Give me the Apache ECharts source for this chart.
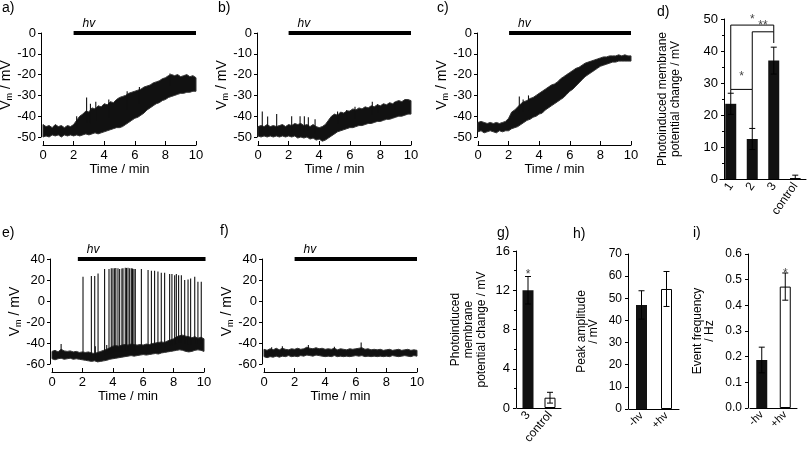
<!DOCTYPE html>
<html><head><meta charset="utf-8">
<script src="https://cdn.jsdelivr.net/npm/echarts@6/dist/echarts.min.js"></script>
<style>html,body{margin:0;padding:0;background:#fff}#c{width:810px;height:449px}</style>
</head><body><div id="c"></div>
<script>
// ---------------- DATA ----------------
const sampleTimes = [0,0.2,0.4,0.6,0.8,1,1.2,1.4,1.6,1.8,2,2.2,2.4,2.6,2.8,3,3.2,3.4,3.6,3.8,4,4.2,4.4,4.6,4.8,5,5.2,5.4,5.6,5.8,6,6.2,6.4,6.6,6.8,7,7.2,7.4,7.6,7.8,8,8.2,8.4,8.6,8.8,9,9.2,9.4,9.6,9.8,10];

// panel a: envelope of the Vm trace (mV)
const aHigh = [-44,-45,-44.5,-45.5,-44,-45,-44.5,-45.5,-44.5,-45,-44,-42,-40,-39,-37.5,-38,-36,-36.5,-35,-35.5,-34,-34.5,-33,-33.5,-32,-31,-30.5,-30,-29,-28.5,-28,-27.5,-27,-26,-25.5,-25,-24,-23.5,-23,-22,-21.5,-20.5,-20,-20.5,-20,-21,-20.5,-20,-21,-20.5,-21.5];
const aLow  = [-50,-49.5,-50,-49,-49.5,-49,-50,-49,-49.5,-49,-49.5,-49,-49.5,-49,-48.5,-49,-48.5,-48,-48.5,-48,-47.5,-47,-46.5,-46,-45.5,-45.5,-45,-44,-43,-42,-41,-40.5,-39.5,-38.5,-37,-36,-35,-34,-33.5,-32.5,-32,-31,-30.5,-30,-29.5,-29,-29,-28.5,-28.5,-28,-28];
const aSpikes = [[2.2,-40],[2.85,-31],[3.1,-34],[3.45,-33],[4.3,-32],[5.5,-28],[6.3,-26],[8.3,-19.5]];

// panel b
const bHigh = [-45,-44.5,-45,-44,-45,-44.5,-45,-44.5,-44,-45,-44,-44.5,-43.5,-44,-43.5,-44.5,-44,-45,-44,-45,-45.5,-45,-44,-42,-40,-39,-39.5,-38,-38.5,-37.5,-37.5,-36.5,-37,-36,-36.5,-35.5,-36,-35,-35.5,-34.5,-35,-34,-34.5,-33.5,-34,-33,-32.5,-33,-32,-32,-32.5];
const bLow  = [-49.5,-50,-49.5,-50,-49.5,-50,-49.5,-50,-49.5,-50,-49.5,-50,-49.5,-50.5,-50,-50.5,-50,-51,-50.5,-51.5,-51,-52,-51.5,-50.5,-49.5,-48.5,-47.5,-47,-46.5,-46,-45.5,-45.5,-45,-44.5,-44.5,-44,-43.5,-43.5,-43,-42.5,-42.5,-42,-41.5,-41.5,-41,-40.5,-40,-40,-39.5,-39,-39];
const bSpikes = [[0.28,-37.8],[0.63,-40.2],[1.22,-39],[2.2,-40],[2.75,-40],[3.03,-40],[3.29,-40.5],[3.73,-41.5],[5.2,-37.8],[5.8,-37],[6.34,-35.5],[7.47,-33],[7.82,-34.2],[8.95,-33]];

// panel c
const cHigh = [-43,-42.5,-43,-43.5,-43,-43.5,-43,-43.5,-43,-42.5,-41,-38,-37,-35.5,-34,-33,-32.5,-31.5,-31,-30,-29,-28,-27,-26,-25,-24.5,-23.5,-22,-21,-20,-19,-18,-17,-16.5,-15.5,-14.5,-14,-13.5,-13,-12.5,-12,-11.5,-11.5,-11,-11,-11,-10.5,-11,-10.5,-11,-11];
const cLow  = [-47.5,-47,-48,-47.5,-47,-47.5,-48,-47,-47.5,-47,-47,-46,-45.5,-45,-44,-43,-42,-41.5,-40.5,-40,-39,-38.5,-37,-36,-35,-34,-33,-32,-31,-29.5,-28,-27,-25.5,-24,-22.5,-21,-20,-19,-18,-17,-16,-15.5,-15,-14.5,-14,-14,-13.5,-13.5,-13.5,-13.5,-13.5];
const cSpikes = [[2.7,-30.5],[2.95,-32],[3.3,-30]];

// panel e
const eHigh = [-48,-47,-48.5,-46,-47.5,-48,-47.5,-48.5,-48,-49,-48.5,-49,-48.5,-49.5,-50,-49,-48,-47,-46,-44.5,-43,-42.5,-43,-42,-41.5,-42,-41,-41.5,-42,-41.5,-42,-41,-41.5,-40.5,-40,-39.5,-39,-39.5,-38,-37,-36,-34,-33,-32.5,-33.5,-34,-35,-34,-35.5,-34.5,-36];
const eLow  = [-55,-56,-55,-54.5,-55.5,-55,-54.5,-55.5,-55,-55.5,-56,-56.5,-57,-57.5,-57,-58,-57.5,-57,-56.5,-55.5,-55,-54.5,-54,-53.5,-53,-52.5,-52,-52.5,-52,-51.5,-51,-51.5,-51,-50.5,-50,-50.5,-49.5,-49,-48.5,-48,-47.5,-47,-46.5,-47,-48,-48.5,-48,-47,-46.5,-47,-48];
const eSpikes = [[0.6,-41],[2.85,-43],[3.6,-42],[2.04,23.2],[2.59,23.7],[2.81,23.7],[3.03,26.3],[3.46,30.5],[3.75,30.5],[3.9,31.1],[4.01,31.1],[4.12,31.1],[4.2,31.5],[4.34,31.1],[4.45,30.5],[4.6,31],[4.67,31.1],[4.82,31.7],[4.9,31.5],[5.0,31.7],[5.11,31.1],[5.22,31.1],[5.3,31],[5.39,30.5],[5.48,30.5],[5.88,30.5],[6.32,29.5],[6.54,28.9],[6.75,28.9],[6.97,28],[7.19,26.9],[7.41,26.9],[7.74,25.6],[7.89,25.6],[8.07,24.6],[8.18,25.6],[8.33,24.6],[8.51,24.6],[8.73,19.9],[8.95,20.5],[9.12,21.5],[9.39,23],[9.6,18.3],[9.82,18.3]];

// panel f
const fHigh = [-46,-47,-45.5,-46.5,-45,-46.5,-45,-46,-46.5,-45.5,-46,-45,-46,-45.5,-44,-45,-45.5,-44.5,-45.5,-45,-46,-45.5,-46,-45,-46.5,-45.5,-46,-46.5,-45.5,-46,-45.5,-45,-44.5,-46,-45.5,-46.5,-46,-46.5,-46,-47,-46.5,-46,-47,-46.5,-46,-47,-46.5,-46,-47,-46.5,-47];
const fLow  = [-53,-54,-53,-53.5,-52.5,-53.5,-52.5,-53,-52,-53,-52.5,-53,-52,-52.5,-51.5,-52,-52.5,-51.5,-52,-52.5,-53,-52.5,-53,-52,-53,-52.5,-53,-52.5,-53,-52.5,-52,-52.5,-52,-53,-52.5,-53,-52.5,-53,-52.5,-53,-52.5,-53,-52,-52.5,-53,-52.5,-52,-52.5,-53,-52,-52.5];
const fSpikes = [[0.5,-44],[1.2,-43],[2.9,-42],[4.6,-43.5],[6.35,-39.5]];

// illumination periods [start, end] (min)
const lightA = [2, 10], lightB = [2, 10], lightC = [2.03, 10], lightE = [1.7, 10.1], lightF = [2, 10];

// panel d
const dCats = ['1','2','3','control'];
const dVals = [23.5, 12.5, 37, 0.2];
const dErrs = [3.3, 3.3, 4.2, 1.0];
const sigFrom = [0, 1, 0], sigTo = [1, 2, 2];
const sigBar = [28, 46, 48.1], sigDropL = [26.8, 28, 28], sigDropR = [15.8, 42.5, 46];
const sigLabels = ['*', '**', '*'], sigLabelAt = [32.8, 48.9, 50.6];

// panel g
const gCats = ['3','control'];
const gVals = [12, 1.05];
const gErrs = [1.4, 0.55];
const gStars = [[0, 13.9]];

// panel h
const hCats = ['-hv','+hv'];
const hVals = [47, 54.2];
const hErrs = [6.4, 7.9];

// panel i
const iCats = ['-hv','+hv'];
const iVals = [0.187, 0.473];
const iErrs = [0.05, 0.053];
const iStars = [[1, 0.535]];

// ---------------- STYLE / BUILD ----------------
const FONT = 'Liberation Sans, Arial, sans-serif';
const hollow = ['control', '+hv'];

const gridBoxes = [
  {left:43, top:33, width:153, height:104},
  {left:258, top:33, width:153, height:104},
  {left:478, top:33, width:153, height:104},
  {left:720, top:19, width:86, height:160},
  {left:52, top:259, width:152, height:105},
  {left:264, top:259, width:153, height:105},
  {left:517, top:251, width:44, height:157},
  {left:629, top:254, width:50, height:155},
  {left:750, top:254, width:47, height:154}
];
const grids = gridBoxes.map(g => Object.assign({containLabel:false, outerBoundsMode:'none'}, g));

const axisLine = {show:true, onZero:false, lineStyle:{color:'#000', width:1}};

function timeX(gi){
  return {type:'value', gridIndex:gi, min:0, max:10, interval:2, offset:8,
    axisLine, axisTick:{show:true, inside:true, length:4, lineStyle:{color:'#000'}},
    axisLabel:{color:'#000', fontSize:13, fontFamily:FONT, margin:4},
    splitLine:{show:false},
    name:'Time / min', nameLocation:'middle', nameGap:18, nameMoveOverlap:false,
    nameTextStyle:{color:'#000', fontSize:13, fontFamily:FONT}};
}
function vmY(gi, min, max, interval, offset){
  return {type:'value', gridIndex:gi, min, max, interval, offset,
    axisLine, axisTick:{show:true, length:3, lineStyle:{color:'#000'}},
    axisLabel:{color:'#000', fontSize:13, fontFamily:FONT, margin:5},
    splitLine:{show:false},
    name:'{a|V}{b|m}{a| / mV}', nameLocation:'middle', nameGap:27, nameMoveOverlap:false,
    nameTextStyle:{rich:{
      a:{fontSize:14, fontFamily:FONT, color:'#000', lineHeight:16},
      b:{fontSize:9, fontFamily:FONT, color:'#000', lineHeight:6, verticalAlign:'bottom'}
    }}};
}
function catX(gi, cats, rotate, fs){
  return {type:'category', gridIndex:gi, data:cats,
    axisLine, axisTick:{show:false},
    axisLabel:{color:'#000', fontSize:fs, fontFamily:FONT, rotate, margin:5, interval:0},
    splitLine:{show:false}};
}
function barY(gi, min, max, interval, offset, name, gap, fmt, minor){
  const ax = {type:'value', gridIndex:gi, min, max, interval, offset,
    axisLine, axisTick:{show:true, length:3, lineStyle:{color:'#000'}},
    axisLabel:{color:'#000', fontSize:13, fontFamily:FONT, margin:6},
    splitLine:{show:false},
    name, nameLocation:'middle', nameGap:gap, nameMoveOverlap:false,
    nameTextStyle:{color:'#000', fontSize:12, fontFamily:FONT, lineHeight:13}};
  if (fmt) ax.axisLabel.formatter = fmt;
  if (minor) { ax.minorTick = {show:true, splitNumber:minor, length:2, lineStyle:{color:'#000'}}; }
  return ax;
}

function band(gi, low, high){
  const data = sampleTimes.map((t,i)=>[t, low[i], high[i]]);
  return {type:'custom', xAxisIndex:gi, yAxisIndex:gi, data, silent:true, z:2,
    renderItem(params, api){
      if (params.dataIndex !== 0) return {type:'group', children:[]};
      const pts = [];
      for (let i = 0; i < data.length; i++) pts.push(api.coord([data[i][0], data[i][2]]));
      for (let i = data.length - 1; i >= 0; i--) pts.push(api.coord([data[i][0], data[i][1]]));
      return {type:'polygon', shape:{points:pts}, style:{fill:'#111', stroke:'#333', lineWidth:1, lineJoin:'miter'}};
    }};
}
function spikes(gi, list, low, high){
  return {type:'custom', xAxisIndex:gi, yAxisIndex:gi, data:list, silent:true, z:3, clip:false,
    renderItem(params, api){
      const t = api.value(0), v = api.value(1);
      let k = 0;
      for (let j = 0; j < sampleTimes.length; j++) if (Math.abs(sampleTimes[j]-t) < Math.abs(sampleTimes[k]-t)) k = j;
      const base = (low[k] + high[k]) / 2;
      const p = api.coord([t, v]), q = api.coord([t, base]);
      return {type:'line', shape:{x1:p[0], y1:p[1], x2:q[0], y2:q[1]}, style:{stroke:'#111', lineWidth:1.1}};
    }};
}
function light(gi, on, level){
  return {type:'custom', xAxisIndex:gi, yAxisIndex:gi, data:[[on[0], level, on[1]]], silent:true, clip:false, z:4,
    renderItem(params, api){
      const s = api.coord([api.value(0), api.value(1)]), e = api.coord([api.value(2), api.value(1)]);
      return {type:'group', children:[
        {type:'line', shape:{x1:s[0], y1:s[1], x2:e[0], y2:e[1]}, style:{stroke:'#000', lineWidth:4}},
        {type:'text', x:s[0]+9, y:s[1]-3, style:{text:'hv', fontSize:12, fontStyle:'italic', fontFamily:FONT, fill:'#000', verticalAlign:'bottom', align:'left'}}
      ]};
    }};
}
function bars(gi, cats, vals){
  return {type:'bar', xAxisIndex:gi, yAxisIndex:gi, barWidth:11, z:2,
    data: vals.map((v,i)=>({value:v, itemStyle: hollow.includes(cats[i]) ? {color:'#fff', borderColor:'#000', borderWidth:1} : {color:'#111'}}))};
}
function errBars(gi, vals, es){
  return {type:'custom', xAxisIndex:gi, yAxisIndex:gi, data: vals.map((v,i)=>[i, v, es[i]]), silent:true, z:5, clip:false,
    renderItem(params, api){
      const i = api.value(0), v = api.value(1), e = api.value(2);
      const top = api.coord([i, v+e]);
      const lo = Math.max(0, v-e);
      const bot = api.coord([i, lo]);
      const st = {stroke:'#000', lineWidth:1};
      const ch = [
        {type:'line', shape:{x1:top[0], y1:top[1], x2:bot[0], y2:bot[1]}, style:st},
        {type:'line', shape:{x1:top[0]-3, y1:top[1], x2:top[0]+3, y2:top[1]}, style:st}
      ];
      if (v - e > 0) ch.push({type:'line', shape:{x1:bot[0]-3, y1:bot[1], x2:bot[0]+3, y2:bot[1]}, style:st});
      return {type:'group', children:ch};
    }};
}
function stars(gi, list){
  return {type:'custom', xAxisIndex:gi, yAxisIndex:gi, data:list, silent:true, z:5, clip:false,
    renderItem(params, api){
      const p = api.coord([api.value(0), api.value(1)]);
      return {type:'text', x:p[0], y:p[1]+3, style:{text:'*', fontSize:12, fontFamily:FONT, fill:'#444', align:'center', verticalAlign:'middle'}};
    }};
}
function sig(gi){
  const data = sigFrom.map((f,k)=>[f, sigBar[k], sigTo[k], sigDropL[k], sigDropR[k], k]);
  return {type:'custom', xAxisIndex:gi, yAxisIndex:gi, data, silent:true, z:5, clip:false,
    renderItem(params, api){
      const f = api.value(0), bar = api.value(1), t = api.value(2), dl = api.value(3), dr = api.value(4), k = api.value(5);
      const p1 = api.coord([f, dl]), p2 = api.coord([f, bar]), p3 = api.coord([t, bar]), p4 = api.coord([t, dr]);
      const ly = api.coord([f, sigLabelAt[k]])[1];
      return {type:'group', children:[
        {type:'polyline', shape:{points:[p1,p2,p3,p4]}, style:{stroke:'#000', lineWidth:1, fill:null}},
        {type:'text', x:(p2[0]+p3[0])/2, y:ly+3, style:{text:sigLabels[k], fontSize:12, fontFamily:FONT, fill:'#444', align:'center', verticalAlign:'middle'}}
      ]};
    }};
}

const xAxes = [
  timeX(0), timeX(1), timeX(2),
  catX(3, dCats, 55, 12),
  timeX(4), timeX(5),
  catX(6, gCats, 50, 12),
  catX(7, hCats, 45, 11),
  catX(8, iCats, 45, 11)
];
const yAxes = [
  vmY(0, -50, 0, 10, 2), vmY(1, -50, 0, 10, 1), vmY(2, -50, 0, 10, 1),
  barY(3, 0, 50, 10, -4, 'Photoinduced membrane\npotential change / mV', 42, null, 2),
  vmY(4, -60, 40, 20, 2), vmY(5, -60, 40, 20, 2),
  barY(6, 0, 16, 4, 1, 'Photoinduced\nmembrane\npotential change / mV', 28, null, 2),
  barY(7, 0, 70, 10, 1, 'Peak amplitude\n/ mV', 28, null, 0),
  barY(8, 0, 0.6, 0.1, 2, 'Event frequency\n/ Hz', 32, v => v.toFixed(1), 0)
];
yAxes[7].axisLabel.fontSize = 12; yAxes[8].axisLabel.fontSize = 12;
yAxes[7].nameTextStyle.lineHeight = 12; yAxes[8].nameTextStyle.lineHeight = 12;

const series = [
  band(0, aLow, aHigh), spikes(0, aSpikes, aLow, aHigh), light(0, lightA, 0),
  band(1, bLow, bHigh), spikes(1, bSpikes, bLow, bHigh), light(1, lightB, 0),
  band(2, cLow, cHigh), spikes(2, cSpikes, cLow, cHigh), light(2, lightC, 0),
  bars(3, dCats, dVals), errBars(3, dVals, dErrs), sig(3),
  band(4, eLow, eHigh), spikes(4, eSpikes, eLow, eHigh), light(4, lightE, 40),
  band(5, fLow, fHigh), spikes(5, fSpikes, fLow, fHigh), light(5, lightF, 40),
  bars(6, gCats, gVals), errBars(6, gVals, gErrs), stars(6, gStars),
  bars(7, hCats, hVals), errBars(7, hVals, hErrs),
  bars(8, iCats, iVals), errBars(8, iVals, iErrs), stars(8, iStars)
];

const letters = [['a)',2,1],['b)',218,1],['c)',437,1],['d)',657,5],['e)',2,226],['f)',220,224],['g)',497,226],['h)',573,227],['i)',693,226]];

const chart = echarts.init(document.getElementById('c'), null, {renderer:'canvas', width:810, height:449});
chart.setOption({
  animation:false,
  backgroundColor:'#fff',
  grid: grids,
  xAxis: xAxes,
  yAxis: yAxes,
  series,
  graphic: letters.map(([t,x,y]) => ({type:'text', left:x, top:y, style:{text:t, fontSize:14, fontFamily:FONT, fill:'#000'}}))
});
</script>
</body></html>
